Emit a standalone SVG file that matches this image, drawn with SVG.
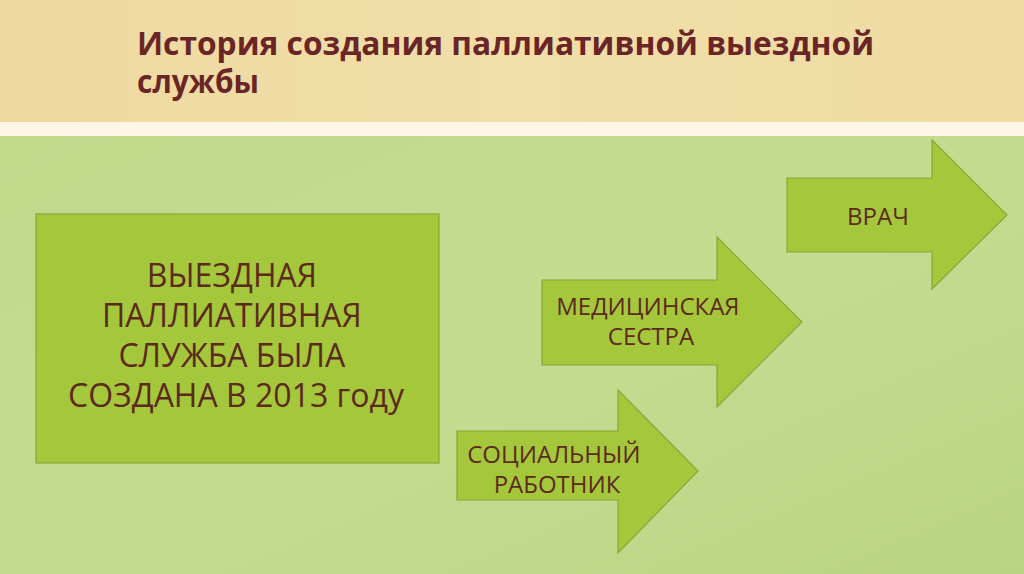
<svg xmlns="http://www.w3.org/2000/svg" width="1024" height="574" viewBox="0 0 1024 574">
  <style>
    .shape { fill: #a5c73b; stroke: #86a838; stroke-width: 1.2; }
    .label { font-family: "Open Sans", "Liberation Sans", sans-serif; fill: #5c2a1c; text-anchor: middle; }
    .title { font-family: "Open Sans", "Liberation Sans", sans-serif; font-weight: bold; fill: #6a2626; }
  </style>
  <defs>
    <linearGradient id="bgGreen" x1="0" y1="0" x2="1" y2="1">
      <stop offset="0" stop-color="#c0d98b"/>
      <stop offset="0.5" stop-color="#c4dc90"/>
      <stop offset="1" stop-color="#bad485"/>
    </linearGradient>
    <linearGradient id="bgTop" x1="0" y1="0" x2="1" y2="0">
      <stop offset="0" stop-color="#eed9a0"/>
      <stop offset="0.5" stop-color="#f1dea8"/>
      <stop offset="1" stop-color="#efdba3"/>
    </linearGradient>
  </defs>

  <!-- background -->
  <rect x="0" y="0" width="1024" height="123" fill="url(#bgTop)"/>
  <rect x="0" y="122" width="1024" height="14" fill="#fdf6e6"/>
  <rect x="0" y="136" width="1024" height="438" fill="url(#bgGreen)"/>

  <!-- title -->
  <g id="title">
    <text class="title" x="137" y="55" font-size="33" textLength="737" lengthAdjust="spacingAndGlyphs">История создания паллиативной выездной</text>
    <text class="title" x="137" y="93" font-size="33" textLength="122" lengthAdjust="spacingAndGlyphs">службы</text>
  </g>

  <!-- main box -->
  <g id="node-service">
    <rect class="shape" x="36" y="214" width="403" height="249"/>
    <text class="label" font-size="32">
      <tspan x="236" y="287">ВЫЕЗДНАЯ</tspan>
      <tspan x="236" y="327">ПАЛЛИАТИВНАЯ</tspan>
      <tspan x="236" y="367">СЛУЖБА БЫЛА</tspan>
      <tspan x="236" y="407">СОЗДАНА В 2013 году</tspan>
    </text>
  </g>

  <!-- arrows -->
  <g id="node-social">
    <path class="shape" d="M457,431 H618 V390 L698,471 L618,553 V500 H457 Z"/>
    <text class="label" font-size="24">
      <tspan x="557" y="463">СОЦИАЛЬНЫЙ</tspan>
      <tspan x="557" y="493">РАБОТНИК</tspan>
    </text>
  </g>

  <g id="node-nurse">
    <path class="shape" d="M542,280 H717 V237 L802,322 L717,407 V365 H542 Z"/>
    <text class="label" font-size="24">
      <tspan x="651" y="315">МЕДИЦИНСКАЯ</tspan>
      <tspan x="651" y="345">СЕСТРА</tspan>
    </text>
  </g>

  <g id="node-doctor">
    <path class="shape" d="M787,178 H932 V140 L1007,215 L932,289 V252 H787 Z"/>
    <text class="label" font-size="24" x="878" y="225">ВРАЧ</text>
  </g>

  <g id="connectors"></g>
</svg>
